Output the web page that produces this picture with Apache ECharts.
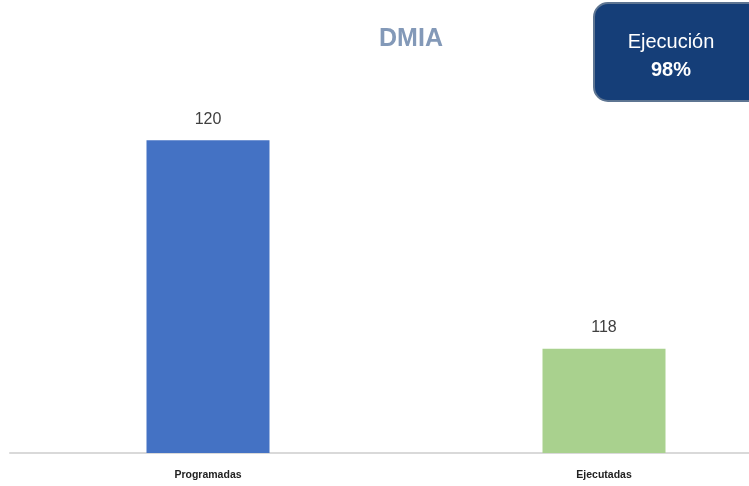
<!DOCTYPE html>
<html>
<head>
<meta charset="utf-8">
<script src="https://cdn.jsdelivr.net/npm/echarts@6/dist/echarts.min.js"></script>
<style>html,body{margin:0;padding:0;background:#fff}#c{width:749px;height:486px}</style>
</head>
<body>
<div id="c"></div>
<script>
const categories = ['Programadas', 'Ejecutadas'];
const values = [120, 118];
const barColors = ['#4472c4', '#a9d18e'];
const titleText = 'DMIA';
const badgeLabel = 'Ejecución';
const badgeValue = '98%';

const chart = echarts.init(document.getElementById('c'));
chart.setOption({
  animation: false,
  title: {
    text: titleText, left: 406, top: 22, textAlign: 'center',
    textStyle: { fontFamily: 'Liberation Sans', fontWeight: 'bold', fontSize: 25, color: '#8399b8' }
  },
  grid: { left: 10, right: -53, top: 36, bottom: 33, outerBoundsMode: 'none', containLabel: false },
  xAxis: {
    type: 'category', data: categories,
    axisLine: { lineStyle: { color: '#d9d9d9', width: 2 } },
    axisTick: { show: false },
    axisLabel: { margin: 17, fontFamily: 'Liberation Sans', fontWeight: 'bold', fontSize: 10.5, color: '#222' }
  },
  yAxis: { type: 'value', min: 117, max: 121, show: false, splitLine: { show: false } },
  series: [{
    type: 'bar', barWidth: 123,
    data: values.map((v, i) => ({ value: v, itemStyle: { color: barColors[i] } })),
    label: { show: true, position: 'top', distance: 13, fontFamily: 'Liberation Sans', fontSize: 16, color: '#404040' }
  }],
  graphic: [
    { type: 'rect', shape: { x: 594, y: 3, width: 170, height: 98, r: 14 },
      style: { fill: '#153e78', stroke: '#5e7592', lineWidth: 2 } },
    { type: 'text', x: 671, y: 42, style: { text: badgeLabel, fill: '#fff', font: '20px "Liberation Sans"', textAlign: 'center', textVerticalAlign: 'middle' } },
    { type: 'text', x: 671, y: 70, style: { text: badgeValue, fill: '#fff', font: 'bold 20px "Liberation Sans"', textAlign: 'center', textVerticalAlign: 'middle' } }
  ]
});
</script>
</body>
</html>
